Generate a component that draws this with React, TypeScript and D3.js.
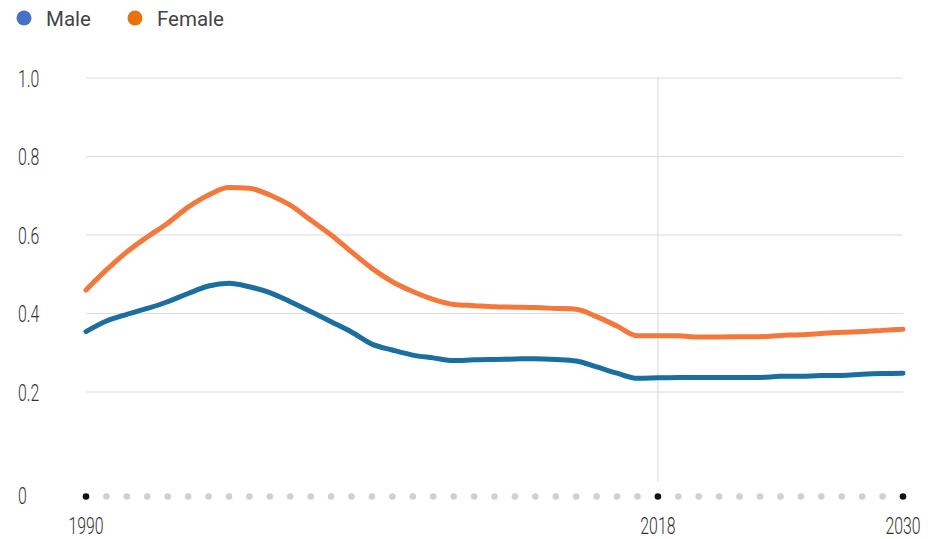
import React from "react";
import * as d3 from "d3";

const years: number[] = d3.range(1990, 2031);
const male: number[] = [
  0.354, 0.381, 0.398, 0.413, 0.430, 0.451, 0.470, 0.477, 0.468, 0.453,
  0.430, 0.405, 0.379, 0.353, 0.322, 0.307, 0.294, 0.287, 0.280, 0.282,
  0.283, 0.284, 0.285, 0.283, 0.279, 0.264, 0.248, 0.235, 0.236, 0.237,
  0.237, 0.237, 0.237, 0.237, 0.240, 0.240, 0.242, 0.242, 0.245, 0.247, 0.248,
];
const female: number[] = [
  0.460, 0.511, 0.557, 0.595, 0.630, 0.671, 0.702, 0.721, 0.719, 0.702,
  0.676, 0.638, 0.600, 0.557, 0.515, 0.481, 0.456, 0.436, 0.423, 0.420,
  0.417, 0.416, 0.415, 0.413, 0.411, 0.392, 0.368, 0.343, 0.343, 0.343,
  0.340, 0.340, 0.341, 0.341, 0.344, 0.346, 0.349, 0.352, 0.354, 0.357, 0.360,
];
const yTicks: number[] = [0.2, 0.4, 0.6, 0.8, 1.0];
const xLabels: number[] = [1990, 2018, 2030];
const seriesNames: string[] = ["Male", "Female"];

const W = 937;
const H = 539;

export default function App() {
  const x = d3.scaleLinear().domain([1990, 2030]).range([86, 903]);
  const y = d3.scaleLinear().domain([0, 1]).range([470.5, 78]);
  const zeroY = 495;
  const line = d3
    .line<number>()
    .x((_, i) => x(years[i]))
    .y((d) => y(d))
    .curve(d3.curveMonotoneX);
  const font = "Roboto, 'Liberation Sans Narrow', sans-serif";
  const tickColor = "#333";
  const sx = 0.66;
  return (
    <svg
      width={W}
      height={H}
      style={{ position: "absolute", left: 0, top: 0, background: "#fff" }}
    >
      {/* legend */}
      <g fontFamily={font} fontSize={20.5} fill="#444">
        <circle cx={24} cy={18} r={7.5} fill="#4472c4" />
        <text x={46} y={26}>{seriesNames[0]}</text>
        <circle cx={135} cy={18} r={7.5} fill="#e8730c" />
        <text x={157} y={26}>{seriesNames[1]}</text>
      </g>
      {/* gridlines */}
      {yTicks.map((t) => (
        <line key={t} x1={x(1990)} x2={x(2030)} y1={y(t)} y2={y(t)} stroke="#dcdcdc" strokeWidth={1.2} />
      ))}
      <line x1={x(2018)} x2={x(2018)} y1={y(1)} y2={482} stroke="#dcdcdc" strokeWidth={1.2} />
      {/* y tick labels */}
      {yTicks.map((t) => (
        <text
          key={t}
          transform={`translate(18,${y(t) + 8.5}) scale(${sx},1)`}
          fontFamily={font}
          fontSize={24}
          fontWeight={300}
          fill={tickColor}
        >
          {d3.format(".1f")(t)}
        </text>
      ))}
      <text
        transform={`translate(18,${zeroY + 8.5}) scale(${sx},1)`}
        fontFamily={font}
        fontSize={24}
        fontWeight={300}
        fill={tickColor}
      >
        0
      </text>
      {/* year dots */}
      {years.map((yr) => (
        <circle
          key={yr}
          cx={x(yr)}
          cy={zeroY + 1.5}
          r={3.3}
          fill={xLabels.includes(yr) ? "#111" : "#d0d0d0"}
        />
      ))}
      {/* x labels */}
      {xLabels.map((yr) => (
        <text
          key={yr}
          transform={`translate(${x(yr)},534) scale(${sx},1)`}
          textAnchor="middle"
          fontFamily={font}
          fontSize={24}
          fontWeight={300}
          fill={tickColor}
        >
          {yr}
        </text>
      ))}
      {/* lines */}
      <path d={line(female) || ""} fill="none" stroke="#f4773c" strokeWidth={5} strokeLinecap="round" strokeLinejoin="round" />
      <path d={line(male) || ""} fill="none" stroke="#1a6ea0" strokeWidth={5} strokeLinecap="round" strokeLinejoin="round" />
    </svg>
  );
}
